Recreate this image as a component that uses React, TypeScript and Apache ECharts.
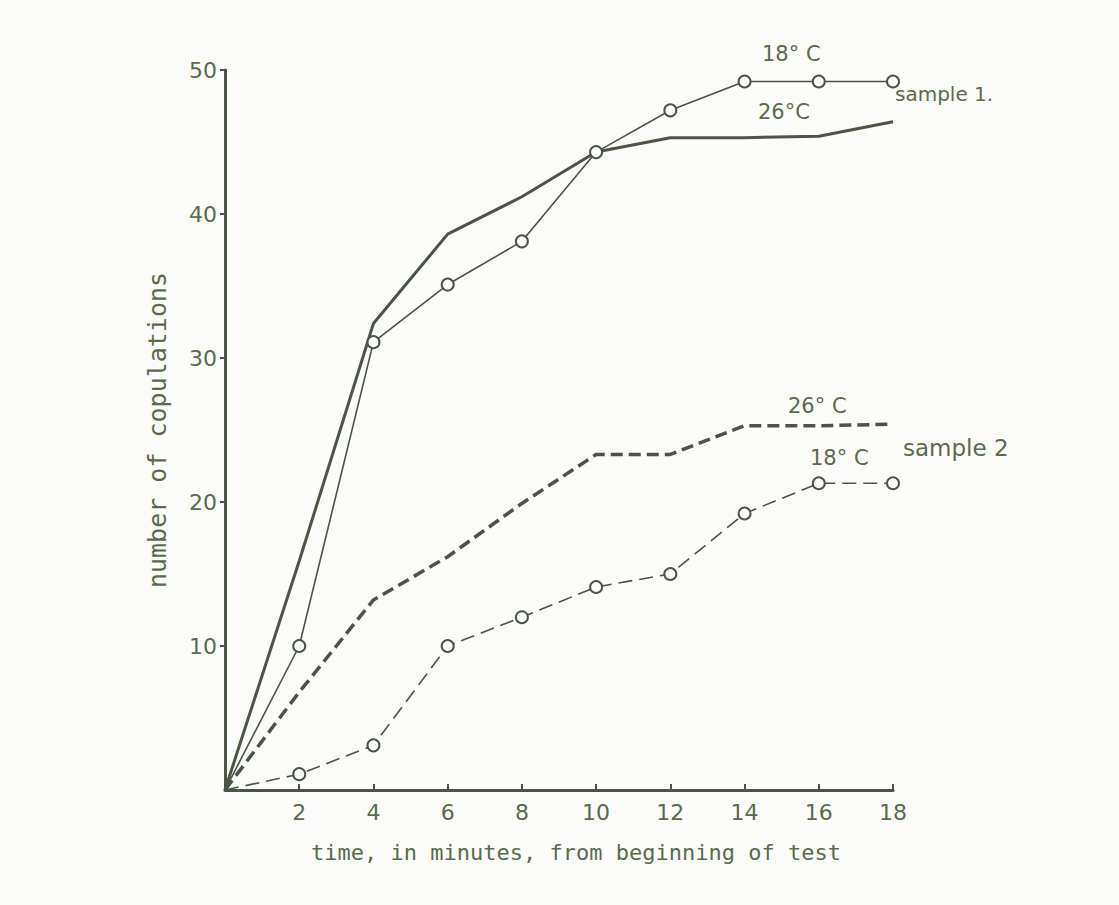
import React, { useEffect, useRef } from "react";
import * as echarts from "echarts";

const minutes = [0, 2, 4, 6, 8, 10, 12, 14, 16, 18];
const sample1At26 = [0, 15.9, 32.4, 38.6, 41.2, 44.3, 45.3, 45.3, 45.4, 46.4];
const sample1At18 = [0, 10, 31.1, 35.1, 38.1, 44.3, 47.2, 49.2, 49.2, 49.2];
const sample2At26 = [0, 6.8, 13.2, 16.2, 19.9, 23.3, 23.3, 25.3, 25.3, 25.4];
const sample2At18 = [0, 1.1, 3.1, 10, 12, 14.1, 15, 19.2, 21.3, 21.3];

const xTitle = "time, in minutes, from beginning of test";
const yTitle = "number of copulations";

const INK = "#4a5546";
const TEXT = "#5a6b4c";
const FONT = "'DejaVu Sans', sans-serif";
const MONO = "'DejaVu Sans Mono', monospace";

function pairs(vals: number[], markers: boolean) {
  return vals.map((v, i) =>
    markers && i > 0
      ? { value: [minutes[i], v] }
      : { value: [minutes[i], v], symbol: "none" }
  );
}

export default function App() {
  const ref = useRef<HTMLDivElement>(null);
  useEffect(() => {
    if (!ref.current) return;
    const chart = echarts.init(ref.current, null, { renderer: "svg" });
    const markerStyle = { color: "#ffffff", borderColor: INK, borderWidth: 2 };
    const label = (text: string, x: number, y: number, size = 21) => ({
      type: "text",
      x,
      y,
      style: {
        text,
        fill: TEXT,
        font: `${size}px ${FONT}`,
        textVerticalAlign: "middle",
      },
    });
    chart.setOption({
      animation: false,
      backgroundColor: "#fbfbf9",
      grid: { left: 225, right: 226, top: 70, bottom: 115 },
      xAxis: {
        type: "value",
        min: 0,
        max: 18,
        interval: 2,
        name: xTitle,
        nameLocation: "middle",
        nameGap: 51,
        nameTextStyle: { color: TEXT, fontSize: 22, fontFamily: MONO, padding: [0, 0, 0, 34] },
        axisLine: { show: true, onZero: false, lineStyle: { color: INK, width: 3 } },
        axisTick: { show: true, inside: true, length: 6, lineStyle: { color: INK, width: 2 } },
        axisLabel: { showMinLabel: false, color: TEXT, fontSize: 22, fontFamily: FONT, margin: 11 },
        splitLine: { show: false },
      },
      yAxis: {
        type: "value",
        min: 0,
        max: 50,
        interval: 10,
        name: yTitle,
        nameLocation: "middle",
        nameGap: 55,
        nameTextStyle: { color: TEXT, fontSize: 25, fontFamily: MONO },
        axisLine: { show: true, onZero: false, lineStyle: { color: INK, width: 3 } },
        axisTick: { show: true, inside: false, length: 5, lineStyle: { color: INK, width: 2 } },
        axisLabel: { showMinLabel: false, color: TEXT, fontSize: 22, fontFamily: FONT, margin: 8 },
        splitLine: { show: false },
      },
      series: [
        {
          name: "sample 1, 26°C",
          type: "line",
          data: pairs(sample1At26, false),
          symbol: "none",
          lineStyle: { color: INK, width: 3 },
        },
        {
          name: "sample 1, 18°C",
          type: "line",
          data: pairs(sample1At18, true),
          symbol: "circle",
          symbolSize: 12,
          itemStyle: markerStyle,
          lineStyle: { color: INK, width: 1.6 },
          z: 3,
        },
        {
          name: "sample 2, 26°C",
          type: "line",
          data: pairs(sample2At26, false),
          symbol: "none",
          lineStyle: { color: INK, width: 3.5, type: [12, 6] },
        },
        {
          name: "sample 2, 18°C",
          type: "line",
          data: pairs(sample2At18, true),
          symbol: "circle",
          symbolSize: 12,
          itemStyle: markerStyle,
          lineStyle: { color: INK, width: 1.6, type: [14, 7] },
          z: 3,
        },
      ],
      graphic: [
        label("18° C", 762, 54),
        label("26°C", 758, 112),
        label("sample 1.", 895, 94, 20),
        label("26° C", 788, 406),
        label("18° C", 810, 458),
        label("sample 2", 903, 448, 23),
      ],
    });
    return () => chart.dispose();
  }, []);
  return (
    <div
      ref={ref}
      style={{ position: "fixed", left: 0, top: 0, width: 1119, height: 905 }}
    />
  );
}
